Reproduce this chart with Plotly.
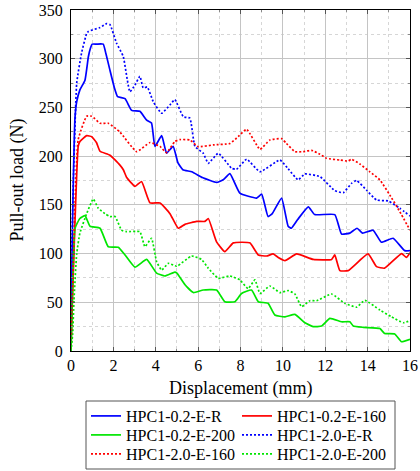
import plotly.graph_objects as go

# ---- data ----
names = ["HPC1-0.2-E-R", "HPC1-0.2-E-160", "HPC1-0.2-E-200",
         "HPC1-2.0-E-R", "HPC1-2.0-E-160", "HPC1-2.0-E-200"]

r02_x = [0, 0.05, 0.11, 0.19, 0.27, 0.42, 0.66, 0.82, 0.92, 1.0, 1.2, 1.52, 1.65, 1.84, 2.05, 2.2, 2.55, 2.86, 3.25, 3.57, 3.8,
         3.96, 4.28, 4.51, 4.82, 5.05, 5.28, 5.7, 6.2, 6.87, 7.2, 7.5, 7.97, 8.76, 9.0, 9.3, 9.5, 9.94, 10.25,
         10.4, 10.7, 11.2, 11.5, 12.45, 12.77, 13.16, 13.5, 13.76, 14.26, 14.65, 15.2, 15.75, 16]
r02_y = [0, 100, 175, 240, 256, 268, 278, 302, 311, 315, 315, 315, 305, 288, 270, 261, 259, 247, 246, 237, 234,
         210, 221, 203, 210, 193, 186, 184, 178, 173, 176, 182, 162, 157, 161, 138, 141, 157, 128,
         126, 135, 148, 140, 140, 120, 121, 126, 121, 124, 111.6, 115.7, 103, 103]

e160_02_x = [0, 0.05, 0.34, 0.42, 0.74, 0.98, 1.2, 1.37, 1.84, 2.3, 2.47, 2.63, 3.02, 3.33, 3.73, 4.2, 4.67,
             5.06, 5.38, 5.93, 6.32, 6.48, 6.87, 7.26, 7.66, 8.44, 8.84, 9.23, 9.54, 9.78, 10.1, 10.65, 11.43,
             12.3, 12.45, 12.69, 13.08, 14.02, 14.42, 14.8, 15.6, 15.83, 16]
e160_02_y = [0, 40, 210, 215, 221, 220, 214, 205, 201, 191, 186, 178, 169, 174, 152, 152, 141,
             126, 130, 133, 133, 136, 112, 102, 111, 111, 98.6, 97.5, 99.6, 96, 92.7, 99.6, 94,
             94, 98.6, 82.5, 82.5, 99.6, 86.6, 85, 100, 96, 101]

e200_02_x = [0, 0.08, 0.19, 0.42, 0.66, 0.9, 1.37, 1.76, 2.23, 2.55, 3.02, 3.57, 4.04, 4.43, 4.9, 5.0, 5.38,
             5.77, 6.24, 6.87, 7.26, 7.74, 8.05, 8.52, 8.84, 9.3, 9.62, 10.1, 10.57, 11.04, 11.43, 11.83,
             12.22, 12.77, 13.16, 13.32, 13.8, 14.58, 14.8, 15.28, 15.6, 16]
e200_02_y = [0, 70, 126, 136, 139, 128, 126, 107, 106.5, 98.6, 86, 94, 80, 77, 81, 80, 68,
             60, 62.6, 62.6, 50.6, 50.6, 59, 62.6, 50.6, 49, 37, 35, 37.6, 29, 25, 25.7,
             33.5, 30, 30, 25.7, 24.3, 23, 18, 17.5, 9.5, 12]

r20_x = [0, 0.05, 0.27, 0.5, 0.74, 0.82, 1.37, 1.68, 1.84, 2.15, 2.47, 2.78, 3.02, 3.25, 3.41, 3.6, 3.88,
         4.28, 4.67, 4.9, 5.3, 5.61, 5.85, 6.24, 6.48, 6.95, 7.58, 7.81, 8.29, 8.92, 9.86, 10.25, 10.72,
         11.04, 11.75, 12.45, 12.85, 13.24, 13.48, 13.95, 14.42, 14.97, 15.52, 16]
r20_y = [0, 120, 275, 306, 326, 328, 332, 336, 335, 316, 302, 266, 273, 282, 270, 271, 256,
         244, 252.6, 258, 240.5, 239, 210, 203, 192.6, 203, 187.6, 186.5, 196.8, 184, 196, 187, 175.6,
         181.7, 179, 164.6, 162.5, 172, 175, 165, 155, 154, 146.5, 138.6]

e160_20_x = [0, 0.05, 0.34, 0.74, 0.98, 1.37, 1.76, 2.3, 3.1, 3.73, 4.2, 4.51, 4.9, 5.14, 5.61, 6.0, 6.71,
             7.5, 7.89, 8.29, 8.92, 9.39, 9.94, 10.17, 10.57, 10.96, 11.35, 11.75, 12.06, 12.69, 13.08,
             13.24, 13.63, 14.1, 14.58, 15.05, 15.52, 16]
e160_20_y = [0, 40, 217, 241, 241, 233.7, 233.7, 225, 204.6, 214, 210, 203.6, 215, 217, 216.6, 209.7, 211.5,
             213, 220, 227.6, 207, 216.6, 218, 213, 204.6, 204.6, 206, 202, 197.8, 196, 195,
             196.8, 192, 184, 175.6, 160, 143, 124]

e200_20_x = [0, 0.08, 0.14, 0.27, 0.42, 0.74, 1.05, 1.29, 1.6, 1.84, 2.08, 2.39, 2.63, 3.25, 3.49, 3.8,
             4.04, 4.28, 4.59, 4.99, 5.69, 6.16, 6.48, 6.95, 7.5, 7.97, 8.36, 8.68, 8.92, 9.39, 9.86,
             10.25, 10.57, 10.88, 11.27, 11.59, 12.3, 12.92, 13.48, 13.87, 14.58, 15.13, 15.68, 16]
e200_20_y = [0, 18, 52, 100, 121, 141, 156, 146.5, 141, 138, 138, 124, 122.5, 122.5, 107, 115.7,
             91.7, 83, 90, 87, 97.5, 94, 85, 74.6, 77, 73, 64, 73, 59, 66.7, 60,
             62, 58.5, 45.5, 51.6, 51.6, 58.5, 49, 45, 52, 42, 35, 29, 31]

x_ticks = [0, 2, 4, 6, 8, 10, 12, 14, 16]
y_ticks = [0, 50, 100, 150, 200, 250, 300, 350]
x_title = "Displacement (mm)"
y_title = "Pull-out load (N)"

series = [
    (r02_x, r02_y, "#0000ff", "solid"),
    (e160_02_x, e160_02_y, "#ff0000", "solid"),
    (e200_02_x, e200_02_y, "#00e600", "solid"),
    (r20_x, r20_y, "#0000ff", "2px,2px"),
    (e160_20_x, e160_20_y, "#ff0000", "2px,2px"),
    (e200_20_x, e200_20_y, "#00e600", "2px,2px"),
]
legend_ids = ["legend", "legend", "legend2", "legend2", "legend3", "legend3"]

FONT = "Liberation Serif, DejaVu Serif, Times New Roman, serif"

fig = go.Figure()
for name, (xs, ys, col, dash), lg in zip(names, series, legend_ids):
    fig.add_trace(go.Scatter(
        x=xs, y=ys, name=name, mode="lines", legend=lg,
        line=dict(color=col, width=1.7, dash=dash, shape="spline", smoothing=0.4),
    ))

axis_common = dict(
    showline=True, linecolor="black", linewidth=1, mirror="allticks",
    ticks="inside", ticklen=4, tickcolor="#555", tickwidth=1,
    showgrid=True, gridcolor="#c4c4c4", gridwidth=1, zeroline=False,
    tickfont=dict(family=FONT, size=16, color="black"),
    automargin=False,
)

fig.update_xaxes(
    range=[0, 16], tickvals=x_ticks, ticktext=[str(v) for v in x_ticks],
    minor=dict(dtick=1, tick0=0, ticks="inside", ticklen=2, tickcolor="#888",
               showgrid=True, gridcolor="#d6d6d6", griddash="dot", gridwidth=1),
    **axis_common,
)
fig.update_yaxes(
    range=[0, 350], tickvals=y_ticks, ticktext=[str(v) for v in y_ticks],
    minor=dict(dtick=25, tick0=0, ticks="inside", ticklen=2, tickcolor="#888",
               showgrid=True, gridcolor="#d6d6d6", griddash="dot", gridwidth=1),
    ticklabelstandoff=4,
    **axis_common,
)

def row_legend(ypix):
    return dict(
        orientation="h", xref="container", yref="container",
        x=86 / 420, y=1 - ypix / 471, xanchor="left", yanchor="middle",
        entrywidth=106, entrywidthmode="pixels",
        borderwidth=0, bgcolor="rgba(0,0,0,0)",
        font=dict(family=FONT, size=16, color="black"),
        tracegroupgap=0,
    )

fig.update_layout(
    width=420, height=471, autosize=False,
    margin=dict(l=71, r=10, t=10, b=120),
    plot_bgcolor="white", paper_bgcolor="white",
    font=dict(family=FONT, size=16, color="black"),
    legend=row_legend(416),
    legend2=row_legend(435),
    legend3=row_legend(454),
    showlegend=True,
)

# axis titles as annotations (placed relative to the plot area)
fig.add_annotation(
    text=x_title, xref="paper", yref="paper", x=0.5, y=0,
    xanchor="center", yanchor="middle", yshift=-37, showarrow=False,
    font=dict(family=FONT, size=18, color="black"),
)
fig.add_annotation(
    text=y_title, xref="paper", yref="paper", x=0, y=0.5, textangle=-90,
    xanchor="center", yanchor="middle", xshift=-54, showarrow=False,
    font=dict(family=FONT, size=18, color="black"),
)

# legend frame (paper coordinates derived from pixel layout of plot area)
fig.add_shape(
    type="rect", xref="paper", yref="paper",
    x0=(86 - 71) / 339, x1=(395 - 71) / 339,
    y0=(351 - 469) / 341, y1=(351 - 401) / 341,
    line=dict(color="#555", width=1), fillcolor="rgba(0,0,0,0)", layer="above",
)

fig.write_html("out.html")
